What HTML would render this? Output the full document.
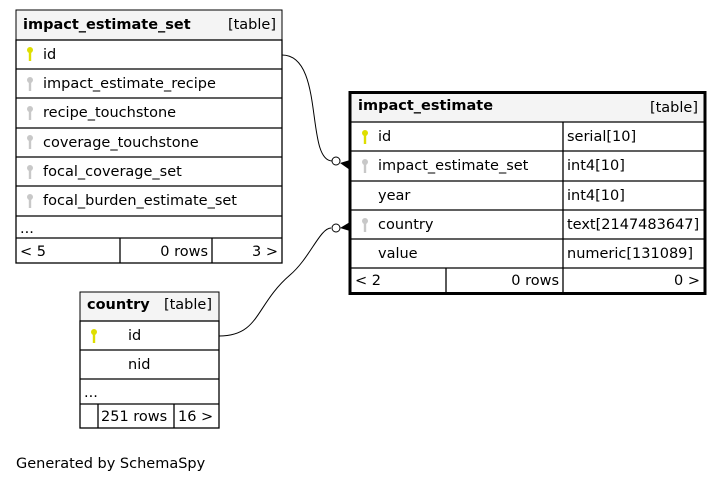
<!DOCTYPE html>
<html><head><meta charset="utf-8"><style>
html,body{margin:0;padding:0;background:#fff;}
svg{display:block;}
text{font-family:"DejaVu Sans","Liberation Sans",sans-serif;font-size:14.5px;fill:#000;}
.b{font-weight:bold;}
</style></head><body>
<svg width="723" height="483" viewBox="0 0 723 483" xmlns="http://www.w3.org/2000/svg">
<defs>
<g id="ky"><circle cx="0" cy="-4" r="3"/><rect x="-1.2" y="-3" width="2.4" height="10"/></g>
</defs>
<!-- Table 1 -->
<rect x="16" y="10" width="266" height="30" fill="#f4f4f4" stroke="#000"/>
<text x="23" y="29" class="b">impact_estimate_set</text>
<text x="276" y="29" text-anchor="end">[table]</text>
<g fill="none" stroke="#000" stroke-width="1.3">
<rect x="16" y="40" width="266" height="223"/>
<line x1="16" y1="69" x2="282" y2="69"/><line x1="16" y1="98" x2="282" y2="98"/>
<line x1="16" y1="128" x2="282" y2="128"/><line x1="16" y1="157" x2="282" y2="157"/>
<line x1="16" y1="186" x2="282" y2="186"/><line x1="16" y1="216" x2="282" y2="216"/>
<line x1="16" y1="238" x2="282" y2="238"/>
<line x1="120" y1="238" x2="120" y2="263"/><line x1="212" y1="238" x2="212" y2="263"/>
</g>
<use href="#ky" x="30" y="54" fill="#dede00"/>
<use href="#ky" x="30" y="84" fill="#c8c8c8"/>
<use href="#ky" x="30" y="113" fill="#c8c8c8"/>
<use href="#ky" x="30" y="142" fill="#c8c8c8"/>
<use href="#ky" x="30" y="172" fill="#c8c8c8"/>
<use href="#ky" x="30" y="201" fill="#c8c8c8"/>
<text x="43" y="59">id</text>
<text x="43" y="88">impact_estimate_recipe</text>
<text x="43" y="117">recipe_touchstone</text>
<text x="43" y="147">coverage_touchstone</text>
<text x="43" y="176">focal_coverage_set</text>
<text x="43" y="205">focal_burden_estimate_set</text>
<text x="20" y="233">...</text>
<text x="20" y="256">&lt; 5</text>
<text x="208" y="256" text-anchor="end">0 rows</text>
<text x="278" y="256" text-anchor="end">3 &gt;</text>

<!-- Table 2 -->
<rect x="351" y="93" width="354" height="29" fill="#f4f4f4"/>
<text x="358" y="110" class="b">impact_estimate</text>
<text x="698" y="112" text-anchor="end">[table]</text>
<g fill="none" stroke="#000" stroke-width="1.3">
<line x1="350" y1="122" x2="705" y2="122"/><line x1="350" y1="151" x2="705" y2="151"/>
<line x1="350" y1="181" x2="705" y2="181"/><line x1="350" y1="210" x2="705" y2="210"/>
<line x1="350" y1="239" x2="705" y2="239"/><line x1="350" y1="268" x2="705" y2="268"/>
<line x1="563" y1="122" x2="563" y2="293"/><line x1="446" y1="268" x2="446" y2="293"/>
</g>
<rect x="350" y="92.5" width="355" height="201" fill="none" stroke="#000" stroke-width="3"/>
<use href="#ky" x="365" y="137" fill="#dede00"/>
<use href="#ky" x="365" y="166" fill="#c8c8c8"/>
<use href="#ky" x="365" y="225" fill="#c8c8c8"/>
<text x="378" y="141">id</text><text x="567" y="141">serial[10]</text>
<text x="378" y="170">impact_estimate_set</text><text x="567" y="170">int4[10]</text>
<text x="378" y="200">year</text><text x="567" y="200">int4[10]</text>
<text x="378" y="229">country</text><text x="567" y="229">text[2147483647]</text>
<text x="378" y="258">value</text><text x="567" y="258">numeric[131089]</text>
<text x="355" y="285">&lt; 2</text>
<text x="559" y="285" text-anchor="end">0 rows</text>
<text x="700" y="285" text-anchor="end">0 &gt;</text>

<!-- Country -->
<rect x="80" y="292" width="139" height="29" fill="#f4f4f4" stroke="#000"/>
<text x="87" y="309" class="b">country</text>
<text x="212" y="309" text-anchor="end">[table]</text>
<g fill="none" stroke="#000" stroke-width="1.3">
<rect x="80" y="321" width="139" height="107"/>
<line x1="80" y1="350" x2="219" y2="350"/><line x1="80" y1="379" x2="219" y2="379"/>
<line x1="80" y1="404" x2="219" y2="404"/>
<line x1="98" y1="404" x2="98" y2="428"/><line x1="174" y1="404" x2="174" y2="428"/>
</g>
<use href="#ky" x="94" y="336" fill="#dede00"/>
<text x="128" y="340">id</text>
<text x="128" y="369">nid</text>
<text x="84" y="397">...</text>
<text x="101" y="421">251 rows</text>
<text x="178" y="421">16 &gt;</text>

<!-- connectors -->
<g fill="none" stroke="#000" stroke-width="1">
<path d="M282,55 C325,55 305,160 332,161"/>
<path d="M219,336 C260,336 255,305 290,275 C310,258 320,228 331,228"/>
</g>
<circle cx="336" cy="161" r="4" fill="#fff" stroke="#000"/>
<circle cx="336" cy="228" r="4" fill="#fff" stroke="#000"/>
<path d="M340,163 L350,160 L350,170 Z" fill="#000"/>
<path d="M340,228 L350,222 L350,231 Z" fill="#000"/>

<text x="16" y="468">Generated by SchemaSpy</text>
</svg>
</body></html>
